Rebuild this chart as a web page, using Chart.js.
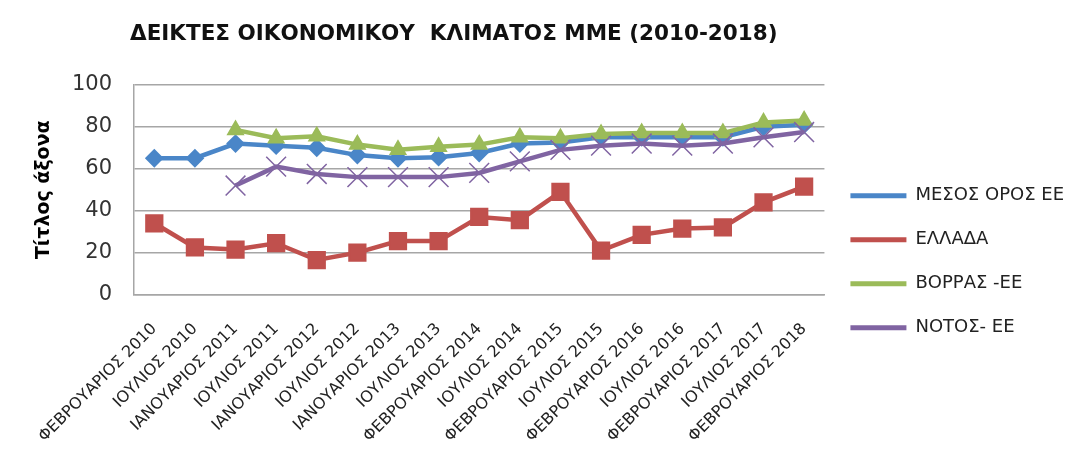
<!DOCTYPE html>
<html>
<head>
<meta charset="utf-8">
<script src="https://cdn.jsdelivr.net/npm/chart.js@4"></script>
<style>
  body { margin: 0; background: #fff; }
  #wrap { width: 1065px; height: 459px; }
</style>
</head>
<body>
<div id="wrap"><canvas id="klimaChart"></canvas></div>
<script>
    // labels
const labels = [
  'ΦΕΒΡΟΥΑΡΙΟΣ 2010',
  'ΙΟΥΛΙΟΣ 2010',
  'ΙΑΝΟΥΑΡΙΟΣ 2011',
  'ΙΟΥΛΙΟΣ 2011',
  'ΙΑΝΟΥΑΡΙΟΣ 2012',
  'ΙΟΥΛΙΟΣ 2012',
  'ΙΑΝΟΥΑΡΙΟΣ 2013',
  'ΙΟΥΛΙΟΣ 2013',
  'ΦΕΒΡΟΥΑΡΙΟΣ 2014',
  'ΙΟΥΛΙΟΣ 2014',
  'ΦΕΒΡΟΥΑΡΙΟΣ 2015',
  'ΙΟΥΛΙΟΣ 2015',
  'ΦΕΒΡΟΥΑΡΙΟΣ 2016',
  'ΙΟΥΛΙΟΣ 2016',
  'ΦΕΒΡΟΥΑΡΙΟΣ 2017',
  'ΙΟΥΛΙΟΣ 2017',
  'ΦΕΒΡΟΥΑΡΙΟΣ 2018',
];

    // data
const mesosOros = [65, 65, 72, 71, 70, 66.5, 65, 65.5, 67.5, 72, 72.5, 75, 75, 75, 75, 80, 81];
const ellada    = [34, 22.5, 21.5, 24.5, 16.5, 20, 25.5, 25.5, 37, 35.5, 49, 21, 28.5, 31.5, 32, 44, 51.5];
const vorras    = [null, null, 78.5, 74.5, 75.5, 71.5, 69, 70.5, 71.5, 75, 74.5, 76.5, 77, 77, 77, 82, 83];
const notos     = [null, null, 52, 61, 57.5, 56, 56, 56, 58, 63.5, 69, 71, 72, 71, 72, 75, 77.5];

const yTicks = [0, 20, 40, 60, 80, 100];

const FONT = "'DejaVu Sans', sans-serif";
const GRID = '#a6a6a6';

function series(label, data, color, style, radius, pBorder, order) {
  return {
    label: label,
    data: data,
    borderColor: color,
    backgroundColor: color,
    borderWidth: 4.5,
    pointStyle: style,
    pointRadius: radius,
    pointHoverRadius: radius,
    pointBorderWidth: pBorder,
    pointBackgroundColor: color,
    pointBorderColor: color,
    tension: 0,
    order: order,
  };
}

const klimaData = {
  labels: labels,
  datasets: [
    series('ΜΕΣΟΣ ΟΡΟΣ ΕΕ', mesosOros, '#4a86c8', 'rectRot', 8, 2, 4),
    series('ΕΛΛΑΔΑ', ellada, '#c0504d', 'rect', 11.5, 2, 3),
    series('ΒΟΡΡΑΣ -ΕΕ', vorras, '#9bbb59', 'triangle', 8.5, 2, 2),
    series('ΝΟΤΟΣ- ΕΕ', notos, '#8064a2', 'crossRot', 14, 1.5, 1),
  ],
};

    // move the title so it starts over the plot area like the original
const titleShift = {
  id: 'titleShift',
  afterLayout(chart) {
    if (chart.titleBlock) {
      chart.titleBlock.left = chart.chartArea.left - 4;
    }
  }
};

const klimaOptions = {
  responsive: true,
  maintainAspectRatio: false,
  animation: false,
  spanGaps: false,
  layout: {
    padding: { left: 33, right: -9, top: 0, bottom: -12 }
  },
  plugins: {
    title: {
      display: true,
      text: 'ΔΕΙΚΤΕΣ ΟΙΚΟΝΟΜΙΚΟΥ  ΚΛΙΜΑΤΟΣ ΜΜΕ (2010-2018)',
      align: 'start',
      color: '#111',
      font: { family: FONT, size: 21.5, weight: 'bold' },
      padding: { top: 22, bottom: 37 }
    },
    legend: {
      position: 'right',
      // empty legend title only pushes the items down
      title: { display: true, text: '', padding: { top: 0, bottom: 38 } },
      labels: {
        boxWidth: 56,
        boxHeight: 5,
        padding: 26,
        color: '#222',
        font: { family: FONT, size: 18 },
        sort: (a, b) => a.datasetIndex - b.datasetIndex,
        generateLabels(chart) {
          const items = Chart.defaults.plugins.legend.labels.generateLabels(chart);
          items.forEach(it => { it.fillStyle = it.strokeStyle; it.lineWidth = 0; });
          return items;
        }
      }
    },
    tooltip: { enabled: false }
  },
  scales: {
    x: {
      offset: true,
      grid: { display: false, drawTicks: false },
      border: { display: true, color: GRID, width: 1.5 },
      ticks: {
        autoSkip: false,
        minRotation: 45,
        maxRotation: 45,
        padding: 25,
        color: '#222',
        font: { family: FONT, size: 16 }
      }
    },
    y: {
      min: 0,
      max: 100,
      afterFit(scale) { scale.width = 101; },
      afterBuildTicks(scale) { scale.ticks = yTicks.map(v => ({ value: v })); },
      grid: { color: GRID, lineWidth: 1.5, drawTicks: false },
      border: { display: true, color: GRID, width: 1.5 },
      ticks: {
        padding: 22,
        color: '#333',
        font: { family: FONT, size: 21 }
      },
      title: {
        display: true,
        text: 'Τίτλος άξονα',
        color: '#000',
        padding: 0,
        font: { family: FONT, size: 19, weight: 'bold' }
      }
    }
  }
};

const klimaChart = new Chart(
  document.getElementById('klimaChart'),
  { type: 'line', data: klimaData, options: klimaOptions, plugins: [titleShift] }
);
</script>
</body>
</html>
